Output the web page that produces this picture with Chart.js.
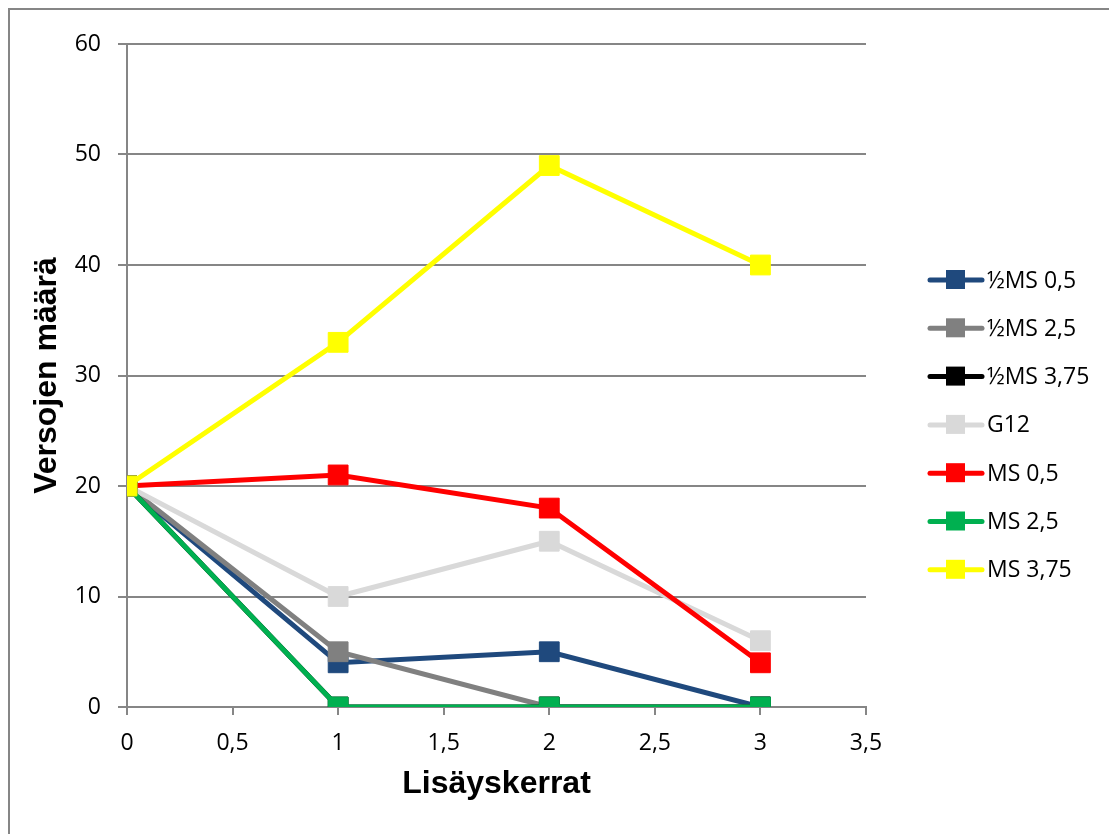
<!DOCTYPE html>
<html>
<head>
<meta charset="utf-8">
<script src="https://cdn.jsdelivr.net/npm/chart.js@4.4.1/dist/chart.umd.min.js"></script>
<style>
  html, body { margin: 0; padding: 0; background: #fff; overflow: hidden; }
  #wrap { position: relative; width: 1109px; height: 834px; }
</style>
</head>
<body>
<div id="wrap"><canvas id="c" width="1109" height="834"></canvas></div>
<script>
// Lisäyskerrat (x) and shoot counts per medium (y)
const xValues = [0, 1, 2, 3];
const seriesNames = ['½MS 0,5', '½MS 2,5', '½MS 3,75', 'G12', 'MS 0,5', 'MS 2,5', 'MS 3,75'];
const halfMS05  = [20, 4, 5, 0];
const halfMS25  = [20, 5, 0, 0];
const halfMS375 = [20, 0, 0, 0];
const g12       = [20, 10, 15, 6];
const ms05      = [20, 21, 18, 4];
const ms25      = [20, 0, 0, 0];
const ms375     = [20, 33, 49, 40];
const seriesColors = ['#1F497D', '#808080', '#000000', '#D9D9D9', '#FF0000', '#00B050', '#FFFF00'];
const xTicks = [0, 0.5, 1, 1.5, 2, 2.5, 3, 3.5];
const yTicks = [0, 10, 20, 30, 40, 50, 60];

const seriesValues = [halfMS05, halfMS25, halfMS375, g12, ms05, ms25, ms375];
const TICK_FONT = { family: '"Open Sans", sans-serif', size: 23 };
const TITLE_FONT = { family: '"Liberation Sans", Arial, sans-serif', size: 32, weight: 'bold', lineHeight: 1.2 };
const GRID = '#868686';

const datasets = seriesValues.map((vals, i) => ({
  label: seriesNames[i],
  data: vals.map((v, k) => ({ x: xValues[k], y: v })),
  borderColor: seriesColors[i],
  backgroundColor: seriesColors[i],
  pointBackgroundColor: seriesColors[i],
  pointBorderColor: seriesColors[i],
  borderWidth: 5,
  pointStyle: 'rect',
  pointRadius: 14,
  pointBorderWidth: 1,
  pointHoverRadius: 14,
  tension: 0,
  order: seriesValues.length - i   // later series drawn on top
}));

// outer frame of the chart
const framePlugin = {
  id: 'frame',
  beforeDraw(chart) {
    const ctx = chart.ctx;
    ctx.save();
    ctx.fillStyle = '#fff';
    ctx.fillRect(0, 0, chart.width, chart.height);
    ctx.strokeStyle = GRID;
    ctx.lineWidth = 2;
    ctx.strokeRect(9, 9, 1300, 1000);
    ctx.restore();
  }
};

// legend on the right: line + square marker + name
const legendPlugin = {
  id: 'sideLegend',
  afterDraw(chart) {
    const ctx = chart.ctx;
    ctx.save();
    chart.data.datasets.forEach((ds, i) => {
      const y = 280 + i * 48.3;
      ctx.strokeStyle = ds.borderColor;
      ctx.lineWidth = 5;
      ctx.lineCap = 'round';
      ctx.beginPath();
      ctx.moveTo(930, y);
      ctx.lineTo(982, y);
      ctx.stroke();
      ctx.fillStyle = ds.borderColor;
      ctx.fillRect(946, y - 10, 19, 19);
      ctx.fillStyle = '#000';
      ctx.font = `${TICK_FONT.size}px ${TICK_FONT.family}`;
      ctx.textBaseline = 'middle';
      ctx.textAlign = 'left';
      ctx.fillText(ds.label, 987, y + 1);
    });
    ctx.restore();
  }
};

const fmt = v => String(v).replace('.', ',');

new Chart(document.getElementById('c'), {
  type: 'line',
  data: { datasets },
  plugins: [framePlugin, legendPlugin],
  options: {
    responsive: false,
    animation: false,
    events: [],
    layout: { padding: { left: 0, top: 44, right: 243, bottom: 0 } },
    plugins: { legend: { display: false }, tooltip: { enabled: false } },
    scales: {
      x: {
        type: 'linear',
        min: 0, max: 3.5,
        afterBuildTicks(scale) { scale.ticks = xTicks.map(v => ({ value: v })); },
        afterFit(scale) { scale.height = 127; },
        ticks: { color: '#000', font: TICK_FONT, padding: 15, maxRotation: 0, callback: fmt },
        grid: { drawOnChartArea: false, drawTicks: true, tickLength: 8, color: GRID, lineWidth: 2 },
        border: { color: GRID, width: 2 },
        title: { display: true, text: 'Lisäyskerrat', color: '#000', font: TITLE_FONT, padding: { top: 0, bottom: 31 } }
      },
      y: {
        type: 'linear',
        min: 0, max: 60,
        afterBuildTicks(scale) { scale.ticks = yTicks.map(v => ({ value: v })); },
        afterFit(scale) { scale.width = 127; },
        ticks: { color: '#000', font: TICK_FONT, padding: 17, callback: fmt },
        grid: { color: GRID, lineWidth: 2, tickLength: 9 },
        border: { color: GRID, width: 2 },
        title: { display: true, text: 'Versojen määrä', color: '#000', font: TITLE_FONT, padding: { top: 28, bottom: 0 } }
      }
    }
  }
});
</script>
</body>
</html>
